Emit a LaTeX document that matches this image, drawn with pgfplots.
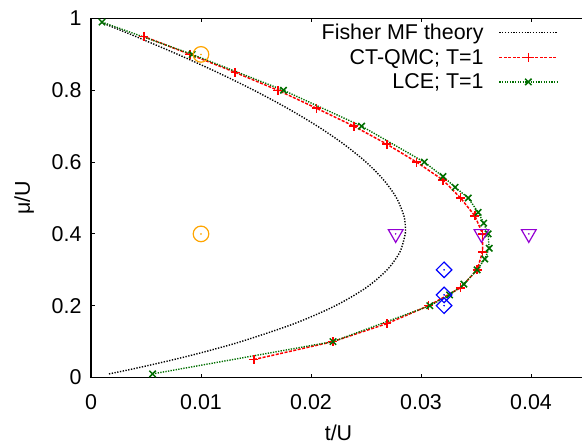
\documentclass[border=0pt]{standalone}
\usepackage{pgfplots}
\pgfplotsset{compat=1.18}
\usepackage{fontspec}
\setmainfont{Liberation Sans}
\definecolor{lgreen}{RGB}{0,110,0}
\definecolor{gorange}{RGB}{255,165,0}
\definecolor{gviolet}{RGB}{148,0,211}
\pgfplotsset{
  legline/.style={legend image code/.code={\draw[mark repeat=2,mark phase=2,##1] plot coordinates {(0bp,0bp) (29bp,0bp) (58bp,0bp)};}},
  legplain/.style={legend image code/.code={\draw[##1] (0bp,0bp) -- (58bp,0bp);}},
}
\begin{document}
\begin{tikzpicture}
\begin{axis}[
  scale only axis, width=495bp, height=359bp,
  xmin=0, xmax=0.045, ymin=0, ymax=1,
  scaled x ticks=false, scaled y ticks=false,
  xtick={0,0.01,0.02,0.03,0.04}, xticklabels={0,0.01,0.02,0.03,0.04},
  ytick={0,0.2,0.4,0.6,0.8,1}, yticklabels={0,0.2,0.4,0.6,0.8,1},
  tick align=inside, major tick length=4bp,
  axis line style={line width=1.1bp}, every tick/.style={black,line width=0.9bp},
  font=\fontsize{21.5}{25}\selectfont,
  xticklabel style={yshift=-14bp},
  yticklabel style={xshift=-6bp},
  xlabel={t/U}, ylabel={μ/U},
  xlabel style={at={(axis description cs:0.5,-0.155)}, anchor=center},
  ylabel style={at={(axis description cs:-0.135,0.5)}, anchor=center},
  legend plot pos=right,
  legend cell align=right,
  legend style={draw=none, fill=none, at={(0.95,0.993)}, anchor=north east,
    font=\fontsize{21.5}{25}\selectfont, nodes={inner sep=1bp}, row sep=6bp, column sep=14bp},
]
\coordinate (LL) at (rel axis cs:0,0);
\coordinate (UL) at (rel axis cs:0,1);
\addplot[black, line width=1.4bp, dash pattern=on 1.3bp off 1.5bp, smooth, legplain]
coordinates {(0.001634,0.01) (0.003203,0.02) (0.004709,0.03) (0.007540,0.05) (0.010140,0.07) (0.013636,0.10) (0.018478,0.15) (0.022222,0.20) (0.025000,0.25) (0.026923,0.30) (0.028086,0.35) (0.028571,0.40) (0.028596,0.414) (0.028448,0.45) (0.027778,0.50) (0.026613,0.55) (0.025000,0.60) (0.022980,0.65) (0.020588,0.70) (0.017857,0.75) (0.014815,0.80) (0.011486,0.85) (0.007895,0.90) (0.004060,0.95) (0.002462,0.97) (0.000829,0.99)};
\addlegendentry{Fisher MF theory}
\addplot[red, line width=1.5bp, dash pattern=on 3bp off 1.5bp, mark=+, mark size=4.5bp,
  mark options={solid, line width=1.5bp}, legline]
coordinates {(0.0148,0.05) (0.0220,0.10) (0.0269,0.15) (0.0307,0.20) (0.0336,0.25) (0.0351,0.30) (0.0356,0.35) (0.0356,0.40) (0.0349,0.45) (0.0336,0.50) (0.0320,0.55) (0.0296,0.60) (0.0269,0.65) (0.0239,0.70) (0.0205,0.75) (0.0170,0.80) (0.0131,0.85) (0.0090,0.90) (0.0048,0.95)};
\addlegendentry{CT-QMC; T=1}
\addplot[lgreen, line width=1.4bp, dash pattern=on 1.3bp off 1.3bp, mark=x, mark size=4.5bp,
  mark options={solid, line width=1.5bp}, legline]
coordinates {(0.0056,0.01) (0.0220,0.10) (0.0308,0.20) (0.0326,0.23) (0.0339,0.26) (0.0351,0.30) (0.0358,0.33) (0.0362,0.36) (0.0361,0.40) (0.0357,0.43) (0.0352,0.46) (0.0343,0.50) (0.0331,0.53) (0.0320,0.56) (0.0303,0.60) (0.0246,0.70) (0.0175,0.80) (0.0092,0.90) (0.0010,0.99)};
\addlegendentry{LCE; T=1}
% extra markers
\addplot[forget plot, only marks, gorange, mark=o, mark size=7.8bp, mark options={line width=1.2bp}]
coordinates {(0.0100,0.9) (0.0100,0.4)};
\addplot[forget plot, only marks, gorange, mark=*, mark size=0.6bp] coordinates {(0.0100,0.9) (0.0100,0.4)};
\addplot[forget plot, only marks, gviolet, mark=triangle, mark size=8.5bp, mark options={rotate=180, line width=1.2bp}]
coordinates {(0.0277,0.4) (0.0355,0.4) (0.0398,0.4)};
\addplot[forget plot, only marks, gviolet, mark=*, mark size=0.6bp] coordinates {(0.0277,0.4) (0.0355,0.4) (0.0398,0.4)};
\addplot[forget plot, only marks, blue, mark=square, mark size=5.5bp, mark options={rotate=45, line width=1.2bp}]
coordinates {(0.0321,0.3) (0.0321,0.23) (0.0321,0.2)};
\addplot[forget plot, only marks, blue, mark=*, mark size=0.6bp] coordinates {(0.0321,0.3) (0.0321,0.23) (0.0321,0.2)};
\end{axis}
\pgfresetboundingbox
\path[use as bounding box] ([shift={(-91bp,-66.5bp)}]LL) rectangle ([shift={(491bp,18.5bp)}]UL);
\end{tikzpicture}
\end{document}
